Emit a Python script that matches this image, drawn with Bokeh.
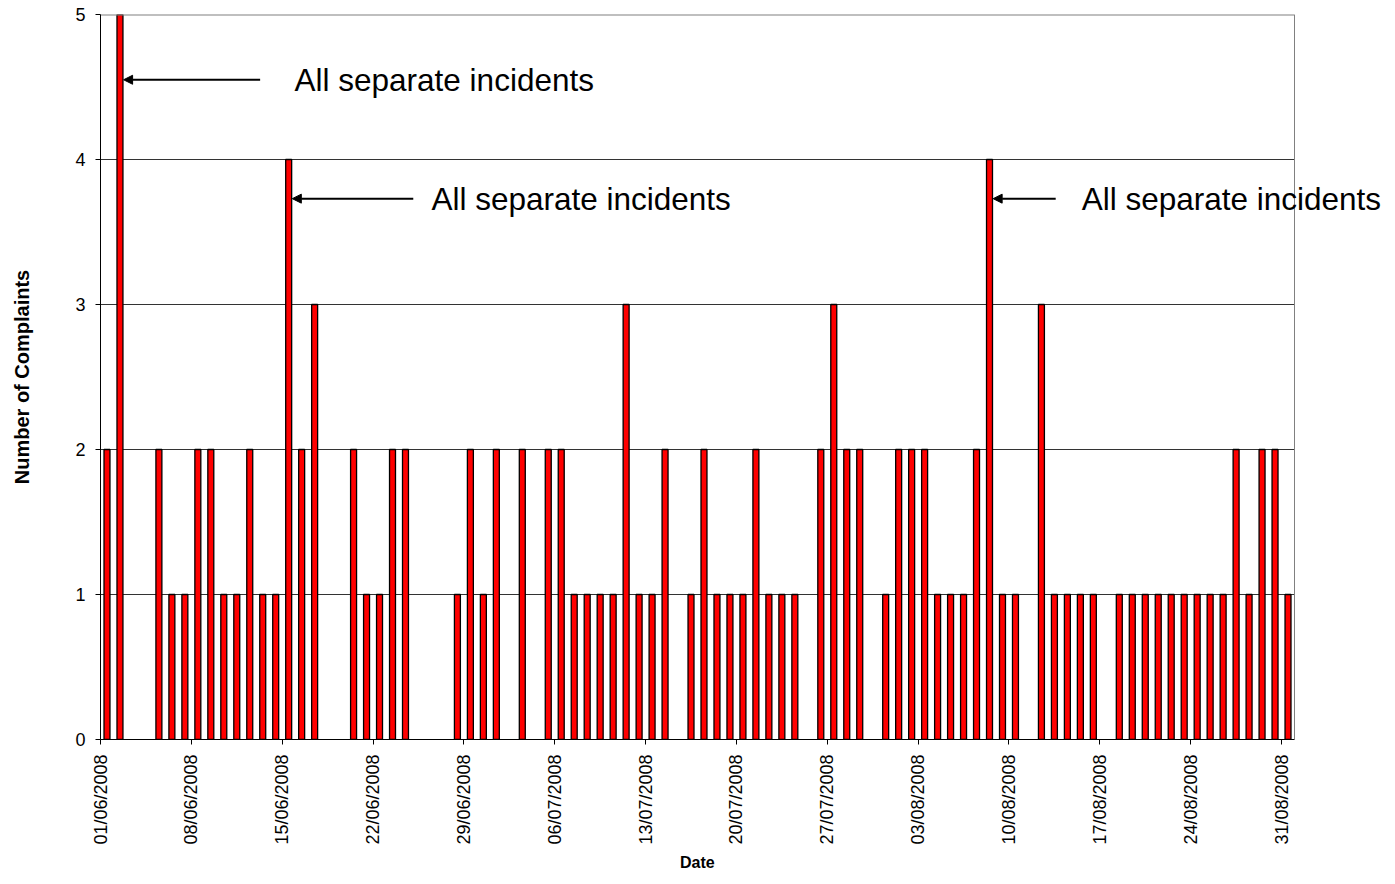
import math
from bokeh.plotting import figure
from bokeh.models import (ColumnDataSource, Range1d, FixedTicker, Arrow,
                          NormalHead, Label, Title)
from bokeh.embed import file_html
from bokeh.resources import INLINE

# ---- data -------------------------------------------------------------
# complaints per day, 01/06/2008 .. 31/08/2008 (92 days)
counts = [2, 5, 0, 0, 2, 1, 1, 2, 2, 1, 1, 2, 1, 1, 4, 2, 3, 0, 0, 2,
          1, 1, 2, 2, 0, 0, 0, 1, 2, 1, 2, 0, 2, 0, 2, 2, 1, 1, 1, 1,
          3, 1, 1, 2, 0, 1, 2, 1, 1, 1, 2, 1, 1, 1, 0, 2, 3, 2, 2, 0,
          1, 2, 2, 2, 1, 1, 1, 2, 4, 1, 1, 0, 3, 1, 1, 1, 1, 0, 1, 1,
          1, 1, 1, 1, 1, 1, 1, 2, 1, 2, 2, 1]
tick_days = [0, 7, 14, 21, 28, 35, 42, 49, 56, 63, 70, 77, 84, 91]
tick_labels = ["01/06/2008", "08/06/2008", "15/06/2008", "22/06/2008",
               "29/06/2008", "06/07/2008", "13/07/2008", "20/07/2008",
               "27/07/2008", "03/08/2008", "10/08/2008", "17/08/2008",
               "24/08/2008", "31/08/2008"]
y_ticks = [0, 1, 2, 3, 4, 5]

ann_text = "All separate incidents"
ann_days = [1, 14, 68]          # bars the arrows point at
ann_y = [4.55, 3.73, 3.73]
ann_tail = [12.3, 24.1, 73.6]
ann_text_x = [14.95, 25.5, 75.6]

# ---- layout -----------------------------------------------------------
FONT = "Liberation Sans"
W, H = 1387, 876
LEFT, TOP, BOTTOM, RIGHT = 100, 14, 137, 4
PLOT_W = 1194                 # pixel width of the 92-day axis
n_days = len(counts)
frame_w = W - LEFT - RIGHT
x_end = n_days * frame_w / PLOT_W
y_max = y_ticks[-1]
bar_w = 0.46

days = [i for i, c in enumerate(counts) if c > 0]
src = ColumnDataSource(dict(
    x=[d + 0.5 for d in days],
    top=[counts[d] for d in days],
))

p = figure(width=W, height=H, output_backend="svg", toolbar_location=None,
           x_range=Range1d(0, x_end), y_range=Range1d(0, y_max),
           min_border_left=LEFT, min_border_right=RIGHT, min_border_top=TOP,
           min_border_bottom=BOTTOM)

# horizontal gridlines, limited to the plot area
grid_y = y_ticks[1:-1]
p.segment(x0=[0] * len(grid_y), x1=[n_days] * len(grid_y), y0=grid_y,
          y1=grid_y, line_color="#333333", line_width=1)

p.vbar(x="x", top="top", width=bar_w, source=src,
       fill_color="#ff0000", line_color="#000000", line_width=1.3)

# plot-area border (top and right), grey
p.line(x=[0, n_days], y=[y_max, y_max], line_color="#808080", line_width=2)
p.line(x=[n_days, n_days], y=[0, y_max], line_color="#808080", line_width=1)

# axes
p.xaxis.ticker = FixedTicker(ticks=tick_days)
p.xaxis.bounds = (0, n_days)
p.xaxis.major_label_overrides = {d: l for d, l in zip(tick_days, tick_labels)}
p.xaxis.major_label_orientation = math.pi / 2
p.xaxis.major_label_text_font = FONT
p.xaxis.major_label_text_font_size = "18px"
p.xaxis.major_label_text_color = "#000000"
p.xaxis.major_label_standoff = 10
p.xaxis.major_tick_in = 0
p.xaxis.major_tick_out = 5
p.xaxis.minor_tick_line_color = None
p.xaxis.axis_line_color = "#000000"
p.xaxis.major_tick_line_color = "#000000"

# "Date" title centred under the 92-day axis (not the wider frame)
DATE_W = 35   # approx. pixel width of the bold "Date" text
p.add_layout(Title(text="Date", align="left",
                   offset=PLOT_W / 2 - DATE_W / 2, standoff=8,
                   vertical_align="bottom",
                   text_font=FONT, text_font_style="bold",
                   text_font_size="16px", text_color="#000000"), "below")

p.yaxis.ticker = FixedTicker(ticks=y_ticks)
p.yaxis.major_label_text_font = FONT
p.yaxis.major_label_text_font_size = "18px"
p.yaxis.major_label_text_color = "#000000"
p.yaxis.major_label_standoff = 10
p.yaxis.major_tick_in = 0
p.yaxis.major_tick_out = 5
p.yaxis.minor_tick_line_color = None
p.yaxis.axis_line_color = "#000000"
p.yaxis.major_tick_line_color = "#000000"
p.yaxis.axis_label = "Number of Complaints"
p.yaxis.axis_label_text_font = FONT
p.yaxis.axis_label_text_font_style = "bold"
p.yaxis.axis_label_text_font_size = "20px"
p.yaxis.axis_label_text_color = "#000000"
p.yaxis.axis_label_standoff = 39

p.xgrid.grid_line_color = None
p.ygrid.grid_line_color = None

p.outline_line_color = None
p.background_fill_color = "#ffffff"
p.border_fill_color = "#ffffff"

# annotations
for d, y, tail, tx in zip(ann_days, ann_y, ann_tail, ann_text_x):
    p.add_layout(Arrow(end=NormalHead(size=9, fill_color="#000000",
                                      line_color="#000000", line_width=1),
                       x_start=tail, y_start=y,
                       x_end=d + 0.5 + bar_w / 2 + 0.05, y_end=y,
                       line_color="#000000", line_width=2))
    p.add_layout(Label(x=tx, y=y, text=ann_text, text_font=FONT,
                       text_font_size="31.5px", text_baseline="middle",
                       text_align="left", text_color="#000000"))

open("out.html", "w").write(file_html(p, INLINE, "Complaints"))
